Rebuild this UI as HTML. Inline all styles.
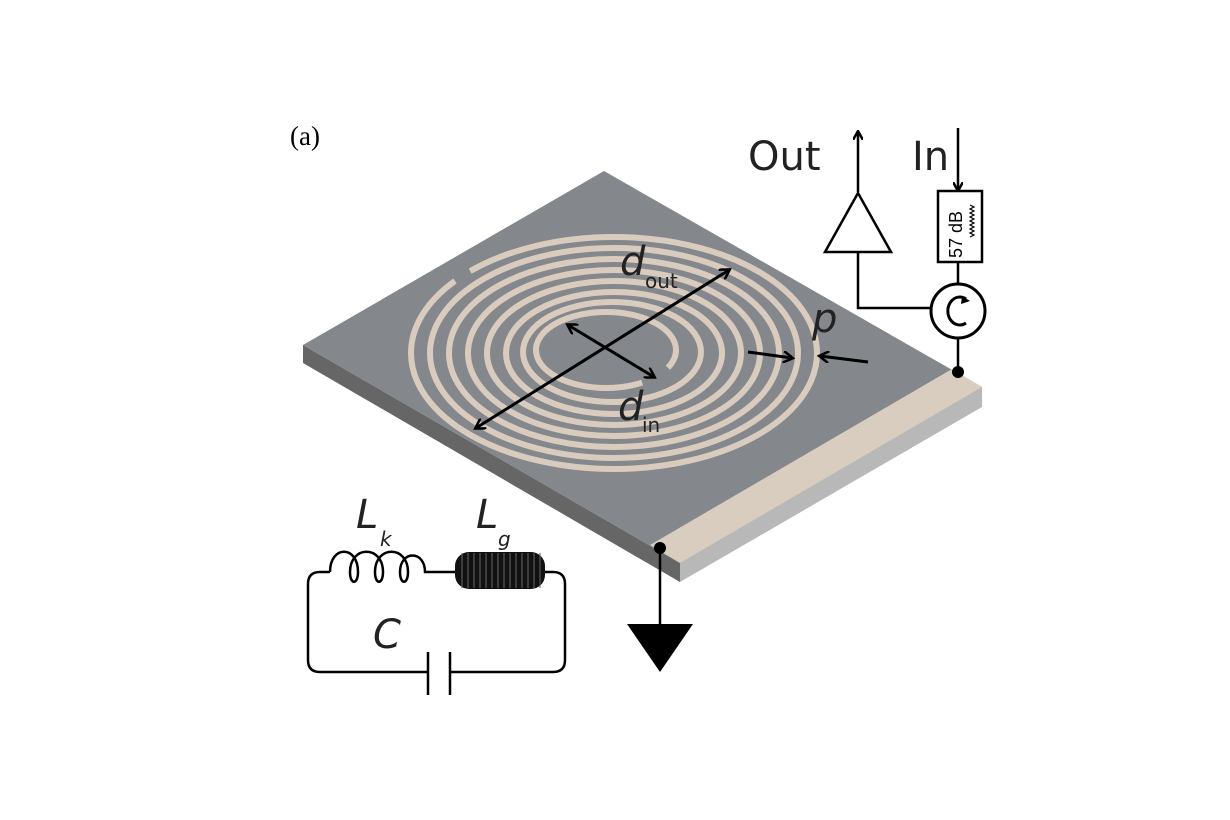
<!DOCTYPE html>
<html><head><style>body{margin:0;background:#fff}svg{display:block}</style></head><body>
<svg width="1230" height="820" viewBox="0 0 1230 820" xmlns="http://www.w3.org/2000/svg" font-family="Liberation Sans, sans-serif">
<defs>
<marker id="ah" markerWidth="10" markerHeight="10" refX="8" refY="5" orient="auto" markerUnits="userSpaceOnUse"><path d="M0,0 L9,5 L0,10" fill="none" stroke="#000" stroke-width="2.5"/></marker>
<marker id="ah2" markerWidth="12" markerHeight="12" refX="9" refY="6" orient="auto-start-reverse" markerUnits="userSpaceOnUse"><path d="M0,0 L10,6 L0,12" fill="none" stroke="#000" stroke-width="2.5"/></marker>
</defs>
<text x="290" y="145" font-family="Liberation Serif, serif" font-size="27">(a)</text>
<polygon points="303,345 680,563 680,582 303,363" fill="#666"/>
<polygon points="680,563 982,387 982,407 680,582" fill="#b8b8b8"/>
<polygon points="604,171 982,387 680,563 303,345" fill="#84878b"/>
<polygon points="952,369 982,387 680,563 650,545" fill="#d9cdc0"/>
<g fill="none" stroke="#d9ccbf" stroke-width="6">
<ellipse cx="614" cy="353" rx="203" ry="116" stroke-dasharray="598 18 500"/>
<ellipse cx="614" cy="353" rx="184" ry="105"/>
<ellipse cx="614" cy="353" rx="165" ry="94"/>
<ellipse cx="614" cy="353" rx="146" ry="83"/>
<ellipse cx="614" cy="353" rx="127" ry="72"/>
<ellipse cx="614" cy="353" rx="108" ry="61"/>
<ellipse cx="612" cy="352" rx="89" ry="50"/>
<ellipse cx="606" cy="350" rx="70" ry="38" stroke-dasharray="20 30 500"/>
</g>
<line x1="476" y1="428" x2="729" y2="270" stroke="#000" stroke-width="3" marker-start="url(#ah2)" marker-end="url(#ah2)"/>
<line x1="568" y1="325" x2="654" y2="377" stroke="#000" stroke-width="3" marker-start="url(#ah2)" marker-end="url(#ah2)"/>
<line x1="748" y1="352" x2="792" y2="358" stroke="#000" stroke-width="3" marker-end="url(#ah2)"/>
<line x1="868" y1="362" x2="820" y2="356" stroke="#000" stroke-width="3" marker-end="url(#ah2)"/>
<g fill="#222" font-family="DejaVu Sans, sans-serif" font-style="italic">
<text x="620" y="275" font-size="40">d</text>
<text x="618" y="420" font-size="40">d</text>
<text x="812" y="332" font-size="40">p</text>
<text x="356" y="528" font-size="40">L</text>
<text x="476" y="528" font-size="40">L</text>
<text x="380" y="546" font-size="20">k</text>
<text x="498" y="546" font-size="20">g</text>
<text x="373" y="648" font-size="40">C</text>
</g>
<g fill="#222" font-family="DejaVu Sans, sans-serif">
<text x="645" y="288" font-size="20">out</text>
<text x="642" y="432" font-size="20">in</text>
<text x="748" y="170" font-size="40">Out</text>
<text x="912" y="170" font-size="40">In</text>
</g>
<g fill="none" stroke="#000" stroke-width="2.5">
<path d="M330,572 H320 Q308,572 308,584 V660 Q308,672 320,672 H428 M450,672 H553 Q565,672 565,660 V584 Q565,572 553,572 H545"/>
<path d="M428,652 V695 M450,652 V695"/>
<path d="M330,572 C330,545 358,545 358,572 C358,585 350,585 350,572 C350,545 383,545 383,572 C383,585 375,585 375,572 C375,545 408,545 408,572 C408,585 400,585 400,572 C400,550 425,550 425,572 H455"/>
</g>
<rect x="455" y="552" width="90" height="37" rx="14" fill="#111"/>
<g stroke="#666" stroke-width="1">
<path d="M462,553 V588 M468,553 V588 M474,553 V588 M480,553 V588 M486,553 V588 M492,553 V588 M498,553 V588 M504,553 V588 M510,553 V588 M516,553 V588 M522,553 V588 M528,553 V588 M534,553 V588 M540,553 V588"/>
</g>
<line x1="660" y1="548" x2="660" y2="626" stroke="#000" stroke-width="2.5"/>
<circle cx="660" cy="548" r="6" fill="#000"/>
<polygon points="627,624 693,624 660,672" fill="#000"/>
<g fill="none" stroke="#000" stroke-width="2.5">
<line x1="858" y1="192" x2="858" y2="132" marker-end="url(#ah)"/>
<polygon points="858,193 825,252 891,252" fill="#fff"/>
<path d="M858,252 V308 H931"/>
<line x1="958" y1="128" x2="958" y2="190" marker-end="url(#ah)"/>
<rect x="938" y="191" width="44" height="71" fill="#fff"/>
<line x1="958" y1="262" x2="958" y2="284"/>
<circle cx="958" cy="311" r="27" fill="#fff" stroke-width="3"/>
<path d="M966,299 A12,14 0 1 0 966,323" stroke-width="3"/>
<line x1="958" y1="338" x2="958" y2="372"/>
<path d="M970,205 l4,2 l-4,2 l4,2 l-4,2 l4,2 l-4,2 l4,2 l-4,2 l4,2 l-4,2 l4,2 l-4,2 l4,2 l-4,2 l4,2 l-4,2" stroke-width="1.2"/>
</g>
<polygon points="962,296 970,301 961,304" fill="#000"/>
<circle cx="958" cy="372" r="6" fill="#000"/>
<text transform="translate(962,258) rotate(-90)" font-size="18" fill="#000">57 dB</text>
</svg>
</body></html>
